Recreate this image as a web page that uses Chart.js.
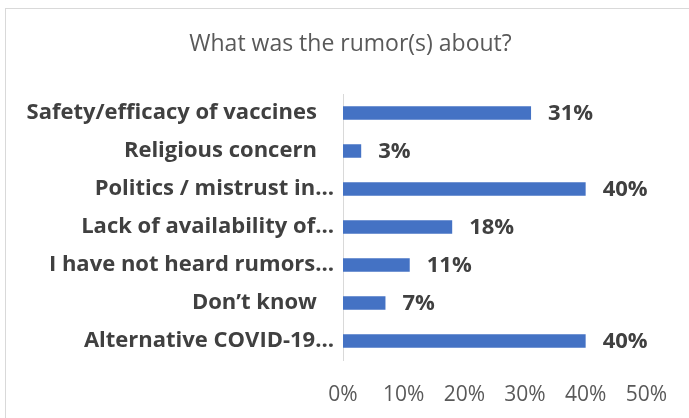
<!DOCTYPE html>
<html>
<head>
<meta charset="utf-8">
<script src="https://cdn.jsdelivr.net/npm/chart.js@4"></script>
<style>
html,body{margin:0;padding:0;overflow:hidden;background:#fff;width:689px;height:418px;}
#frame{position:absolute;left:5px;top:8px;width:800px;height:600px;border:1px solid #d9d9d9;box-sizing:border-box;}
#wrap{position:absolute;left:0;top:0;width:689px;height:418px;}
</style>
</head>
<body>
<div id="frame"></div>
<div id="wrap"><canvas id="c" width="689" height="418"></canvas></div>
<script>
const chartTitle = "What was the rumor(s) about?";
const categories = [
  "Safety/efficacy of vaccines",
  "Religious concern",
  "Politics / mistrust in…",
  "Lack of availability of…",
  "I have not heard rumors…",
  "Don’t know",
  "Alternative COVID-19…"
];
const values = [31, 3, 40, 18, 11, 7, 40];
const tickValues = [0, 10, 20, 30, 40, 50];

const FONT = "'Open Sans', sans-serif";
const AXIS_X = 343, PLOT_RIGHT = 647, PLOT_BOTTOM = 360;
const FRAME_LEFT = 5, FRAME_RIGHT = 696;

const valueLabels = {
  id: 'valueLabels',
  afterLayout(chart) {
    // centre the title on the chart frame, like the original
    const t = chart.titleBlock;
    if (t) { t.left = FRAME_LEFT; t.right = FRAME_RIGHT; t.width = FRAME_RIGHT - FRAME_LEFT; }
  },
  afterDatasetsDraw(chart) {
    const ctx = chart.ctx;
    const meta = chart.getDatasetMeta(0);
    ctx.save();
    ctx.font = "bold 22px " + FONT;
    ctx.fillStyle = "#404040";
    ctx.textAlign = "left";
    ctx.textBaseline = "middle";
    meta.data.forEach((bar, i) => {
      ctx.fillText(values[i] + "%", bar.x + 17, bar.y + 1);
    });
    ctx.restore();
  }
};

new Chart(document.getElementById('c'), {
  type: 'bar',
  data: {
    labels: categories,
    datasets: [{
      data: values,
      backgroundColor: '#4472C4',
      borderWidth: 0,
      barPercentage: 0.36,
      categoryPercentage: 1.0
    }]
  },
  options: {
    indexAxis: 'y',
    responsive: false,
    animation: false,
    layout: { padding: { left: 0, right: 689 - PLOT_RIGHT, top: 0, bottom: 0 } },
    plugins: {
      legend: { display: false },
      tooltip: { enabled: false },
      title: {
        display: true,
        text: chartTitle,
        color: '#595959',
        font: { family: FONT, size: 23, weight: 'normal' },
        padding: { top: 30.5, bottom: 35.9 }
      }
    },
    scales: {
      x: {
        min: 0, max: 50,
        afterBuildTicks(scale) { scale.ticks = tickValues.map(v => ({ value: v })); },
        afterFit(scale) { scale.height = 418 - PLOT_BOTTOM; },
        grid: { display: false, drawTicks: false },
        border: { display: false },
        ticks: {
          padding: 22,
          color: '#595959',
          font: { family: FONT, size: 21 },
          callback: v => v + '%'
        }
      },
      y: {
        afterFit(scale) { scale.width = AXIS_X; },
        grid: { display: false, drawTicks: false },
        border: { display: true, color: '#d9d9d9', width: 1 },
        ticks: {
          padding: 9,
          color: '#404040',
          autoSkip: false,
          font: { family: FONT, size: 22, weight: 'bold' },
          callback(v) {
            const s = this.getLabelForValue(v);
            return s.endsWith('…') ? s : s + '   ';
          }
        }
      }
    }
  },
  plugins: [valueLabels]
});
</script>
</body>
</html>
